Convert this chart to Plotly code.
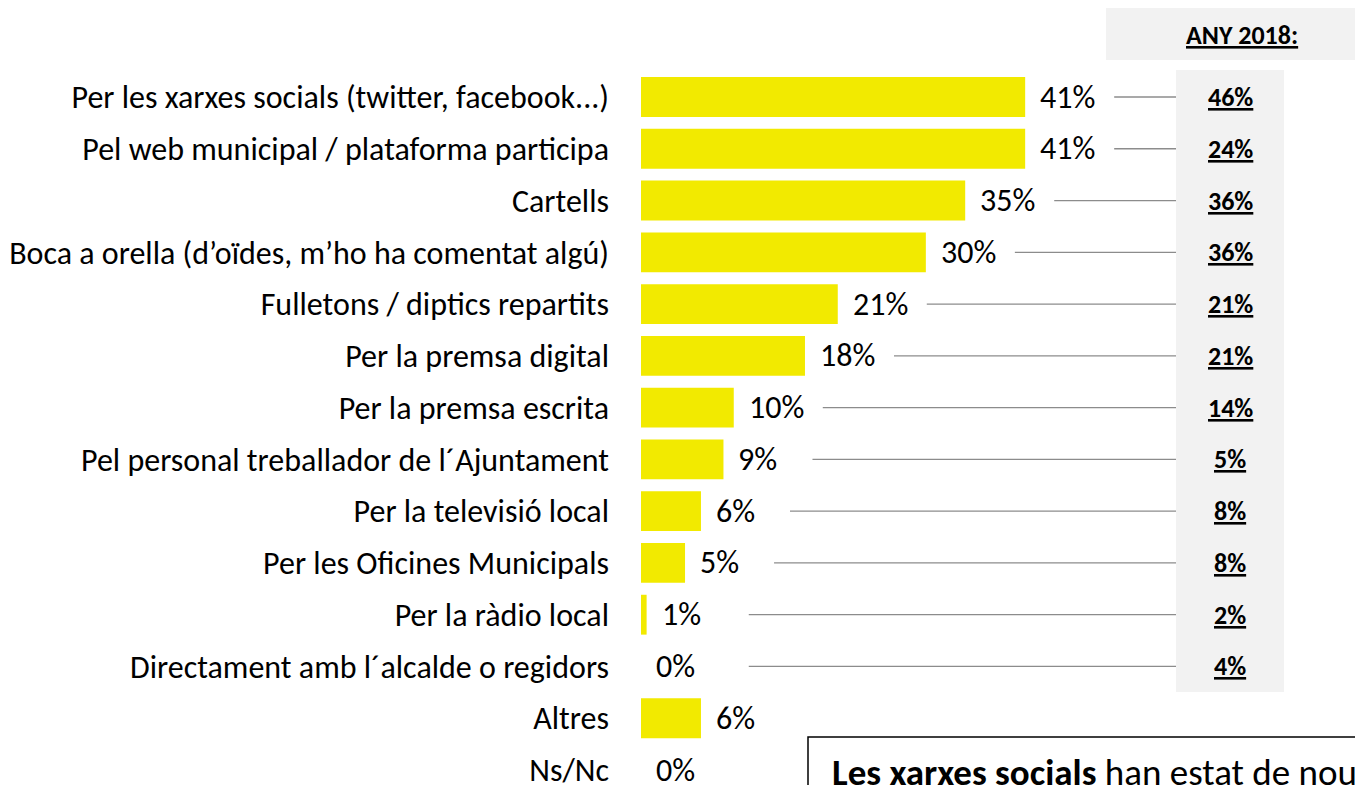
import plotly.graph_objects as go

categories = [
    "Per les xarxes socials (twitter, facebook...)",
    "Pel web municipal / plataforma participa",
    "Cartells",
    "Boca a orella (d’oïdes, m’ho ha comentat algú)",
    "Fulletons / diptics repartits",
    "Per la premsa digital",
    "Per la premsa escrita",
    "Pel personal treballador de l´Ajuntament",
    "Per la televisió local",
    "Per les Oficines Municipals",
    "Per la ràdio local",
    "Directament amb l´alcalde o regidors",
    "Altres",
    "Ns/Nc",
]
values_2021 = [41.0, 41.0, 34.6, 30.4, 21.0, 17.5, 9.9, 8.8, 6.4, 4.7, 0.6, 0.0, 6.4, 0.0]
labels_2021 = ["41%", "41%", "35%", "30%", "21%", "18%", "10%", "9%", "6%", "5%", "1%", "0%", "6%", "0%"]
values_2018 = ["46%", "24%", "36%", "36%", "21%", "21%", "14%", "5%", "8%", "8%", "2%", "4%"]

FONT = "Carlito, Calibri, Lato, sans-serif"
YELLOW = "#F2EA00"
GREY_BG = "#F2F2F2"

# the page body has an 8px margin, so work in page pixels and shift
OFF = 8
W, H = 1363 - OFF, 785 - OFF
X0 = 641 - OFF          # pixel where bars start
PX_PER_UNIT = 9.37
ROW0, ROW_STEP = 97 - OFF, 51.77


def px2x(p):
    # page pixel -> data x
    return (p - OFF - X0) / PX_PER_UNIT


def py2paper(p):
    # page pixel -> paper y
    return 1 - (p - OFF) / H


n = len(categories)
idx = list(range(n))

fig = go.Figure(go.Bar(
    x=values_2021, y=idx, orientation="h",
    marker=dict(color=YELLOW, line_width=0),
    width=0.77, hoverinfo="skip",
))

# value labels
for i, (v, t) in enumerate(zip(values_2021, labels_2021)):
    fig.add_annotation(x=v, y=i, text=t, xanchor="left", yanchor="middle",
                       xshift=13, showarrow=False, font=dict(size=32, color="black"))

# grey column for 2018 values + header
fig.add_shape(type="rect", xref="x", yref="paper", x0=px2x(1176), x1=px2x(1284),
              y0=py2paper(692), y1=py2paper(70), fillcolor=GREY_BG, line_width=0, layer="below")
fig.add_shape(type="rect", xref="x", yref="paper", x0=px2x(1106), x1=px2x(1380),
              y0=py2paper(60), y1=py2paper(7), fillcolor=GREY_BG, line_width=0, layer="below")
fig.add_annotation(x=px2x(1242), y=py2paper(35), xref="x", yref="paper", yanchor="middle",
                   text="<b><u>ANY 2018:</u></b>", showarrow=False, font=dict(size=26, color="black"))

# connectors and 2018 values
for i, t in enumerate(values_2018):
    start = max(values_2021[i], 2) + 9.5
    fig.add_shape(type="line", x0=start, x1=px2x(1176), y0=i, y1=i,
                  line=dict(color="#8C8C8C", width=1.3))
    fig.add_annotation(x=px2x(1230), y=i, text=f"<b><u>{t}</u></b>", showarrow=False,
                       yanchor="middle", font=dict(size=26, color="black"))

# commentary box (cut off at bottom right)
fig.add_shape(type="rect", xref="x", yref="paper", x0=px2x(808), x1=px2x(1390),
              y0=-0.05, y1=py2paper(737), line=dict(color="black", width=1.5), fillcolor="white")
fig.add_annotation(x=px2x(830), y=py2paper(772), xref="x", yref="paper", xanchor="left", yanchor="middle",
                   text="<b>Les xarxes socials</b> han estat de nou", showarrow=False,
                   font=dict(size=37, color="black"))

fig.update_xaxes(range=[0, (W - X0) / PX_PER_UNIT], visible=False, fixedrange=True, automargin=False)
fig.update_yaxes(
    range=[(H - ROW0) / ROW_STEP, -ROW0 / ROW_STEP],
    tickvals=idx, ticktext=categories, showgrid=False, zeroline=False, showline=False,
    ticks="", ticklabelstandoff=31, ticklabeloverflow="allow", automargin=False,
    tickfont=dict(size=32, color="black"), fixedrange=True,
)
fig.update_layout(
    width=W, height=H, margin=dict(l=X0, r=0, t=0, b=0),
    plot_bgcolor="white", paper_bgcolor="white", showlegend=False,
    font=dict(family=FONT, color="black"),
)

fig.write_html("out.html", config={"displayModeBar": False})
